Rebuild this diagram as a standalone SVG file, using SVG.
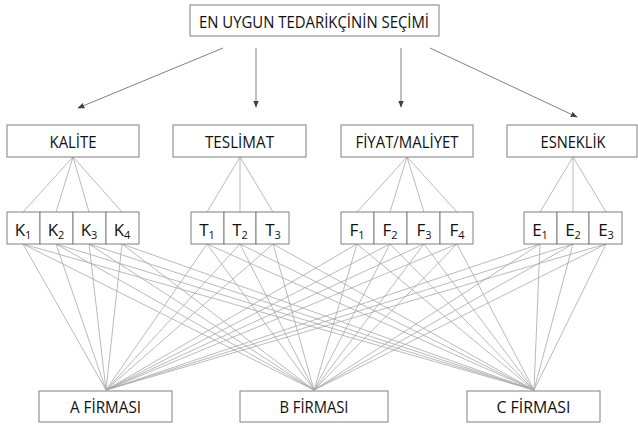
<svg xmlns="http://www.w3.org/2000/svg" width="638" height="426" viewBox="0 0 638 426">
<defs>
<style>
.box{fill:#fff;stroke:#7f7f7f;stroke-width:1}
.t{font-family:"Open Sans","Liberation Sans",sans-serif;font-size:17px;fill:#111;text-anchor:middle}
.s{font-size:11px}
.c{stroke:#a8a8a8;stroke-width:0.8;fill:none}
.a{stroke:#808080;stroke-width:1;fill:none;marker-end:url(#ah)}
</style>
<marker id="ah" viewBox="0 0 10 10" refX="9" refY="5" markerWidth="7" markerHeight="7" orient="auto" markerUnits="userSpaceOnUse">
<path d="M0,1 L10,5 L0,9 z" fill="#404040"/>
</marker>
</defs>
<g id="connectors">
<line class="a" x1="223" y1="48" x2="78" y2="108"/>
<line class="a" x1="256" y1="48" x2="256" y2="107"/>
<line class="a" x1="401" y1="48" x2="401" y2="107"/>
<line class="a" x1="430" y1="48" x2="577" y2="117"/>
<path class="c" d="M73,157L23,212M73,157L56,212M73,157L89,212M73,157L122,212"/>
<path class="c" d="M240,157L207,212M240,157L240,212M240,157L273,212"/>
<path class="c" d="M407,157L357,212M407,157L390,212M407,157L424,212M407,157L457,212"/>
<path class="c" d="M573,157L540,212M573,157L573,212M573,157L606,212"/>
<path class="c" d="M23,244L106,390M56,244L106,390M89,244L106,390M122,244L106,390M207,244L106,390M240,244L106,390M273,244L106,390M357,244L106,390M390,244L106,390M424,244L106,390M457,244L106,390M540,244L106,390M573,244L106,390M606,244L106,390"/>
<path class="c" d="M23,244L314,390M56,244L314,390M89,244L314,390M122,244L314,390M207,244L314,390M240,244L314,390M273,244L314,390M357,244L314,390M390,244L314,390M424,244L314,390M457,244L314,390M540,244L314,390M573,244L314,390M606,244L314,390"/>
<path class="c" d="M23,244L534,390M56,244L534,390M89,244L534,390M122,244L534,390M207,244L534,390M240,244L534,390M273,244L534,390M357,244L534,390M390,244L534,390M424,244L534,390M457,244L534,390M540,244L534,390M573,244L534,390M606,244L534,390"/>
</g>
<g id="goal"><rect class="box" x="190" y="5" width="249" height="31"/><text class="t" x="314" y="28" font-size="18" textLength="230" lengthAdjust="spacingAndGlyphs">EN UYGUN TEDARİKÇİNİN SEÇİMİ</text></g>
<g id="kalite"><rect class="box" x="7" y="125" width="132" height="32"/><text class="t" x="73" y="148" textLength="47" lengthAdjust="spacingAndGlyphs">KALİTE</text></g>
<g id="teslimat"><rect class="box" x="173" y="125" width="133" height="32"/><text class="t" x="239.5" y="148" textLength="69" lengthAdjust="spacingAndGlyphs">TESLİMAT</text></g>
<g id="fiyat"><rect class="box" x="341" y="125" width="132" height="32"/><text class="t" x="407" y="148" textLength="103" lengthAdjust="spacingAndGlyphs">FİYAT/MALİYET</text></g>
<g id="esneklik"><rect class="box" x="507" y="125" width="130" height="32"/><text class="t" x="573" y="148" textLength="65" lengthAdjust="spacingAndGlyphs">ESNEKLİK</text></g>
<g id="K1"><rect class="box" x="7" y="212" width="33" height="32"/><text class="t" x="23" y="236">K<tspan class="s" dy="3">1</tspan></text></g>
<g id="K2"><rect class="box" x="40" y="212" width="33" height="32"/><text class="t" x="56" y="236">K<tspan class="s" dy="3">2</tspan></text></g>
<g id="K3"><rect class="box" x="73" y="212" width="33" height="32"/><text class="t" x="89" y="236">K<tspan class="s" dy="3">3</tspan></text></g>
<g id="K4"><rect class="box" x="106" y="212" width="33" height="32"/><text class="t" x="122" y="236">K<tspan class="s" dy="3">4</tspan></text></g>
<g id="T1"><rect class="box" x="191" y="212" width="33" height="32"/><text class="t" x="207" y="236">T<tspan class="s" dy="3">1</tspan></text></g>
<g id="T2"><rect class="box" x="224" y="212" width="32" height="32"/><text class="t" x="240" y="236">T<tspan class="s" dy="3">2</tspan></text></g>
<g id="T3"><rect class="box" x="256" y="212" width="33" height="32"/><text class="t" x="273" y="236">T<tspan class="s" dy="3">3</tspan></text></g>
<g id="F1"><rect class="box" x="341" y="212" width="33" height="32"/><text class="t" x="357" y="236">F<tspan class="s" dy="3">1</tspan></text></g>
<g id="F2"><rect class="box" x="374" y="212" width="33" height="32"/><text class="t" x="390" y="236">F<tspan class="s" dy="3">2</tspan></text></g>
<g id="F3"><rect class="box" x="407" y="212" width="33" height="32"/><text class="t" x="424" y="236">F<tspan class="s" dy="3">3</tspan></text></g>
<g id="F4"><rect class="box" x="440" y="212" width="33" height="32"/><text class="t" x="457" y="236">F<tspan class="s" dy="3">4</tspan></text></g>
<g id="E1"><rect class="box" x="524" y="212" width="33" height="32"/><text class="t" x="540" y="236">E<tspan class="s" dy="3">1</tspan></text></g>
<g id="E2"><rect class="box" x="557" y="212" width="32" height="32"/><text class="t" x="573" y="236">E<tspan class="s" dy="3">2</tspan></text></g>
<g id="E3"><rect class="box" x="589" y="212" width="33" height="32"/><text class="t" x="606" y="236">E<tspan class="s" dy="3">3</tspan></text></g>
<g id="firmaA"><rect class="box" x="39" y="391" width="133" height="31"/><text class="t" x="105.5" y="413" textLength="71" lengthAdjust="spacingAndGlyphs">A FİRMASI</text></g>
<g id="firmaB"><rect class="box" x="240" y="391" width="148" height="31"/><text class="t" x="314" y="413" textLength="69" lengthAdjust="spacingAndGlyphs">B FİRMASI</text></g>
<g id="firmaC"><rect class="box" x="467" y="391" width="133" height="31"/><text class="t" x="533.5" y="413" textLength="74" lengthAdjust="spacingAndGlyphs">C FİRMASI</text></g>
</svg>
